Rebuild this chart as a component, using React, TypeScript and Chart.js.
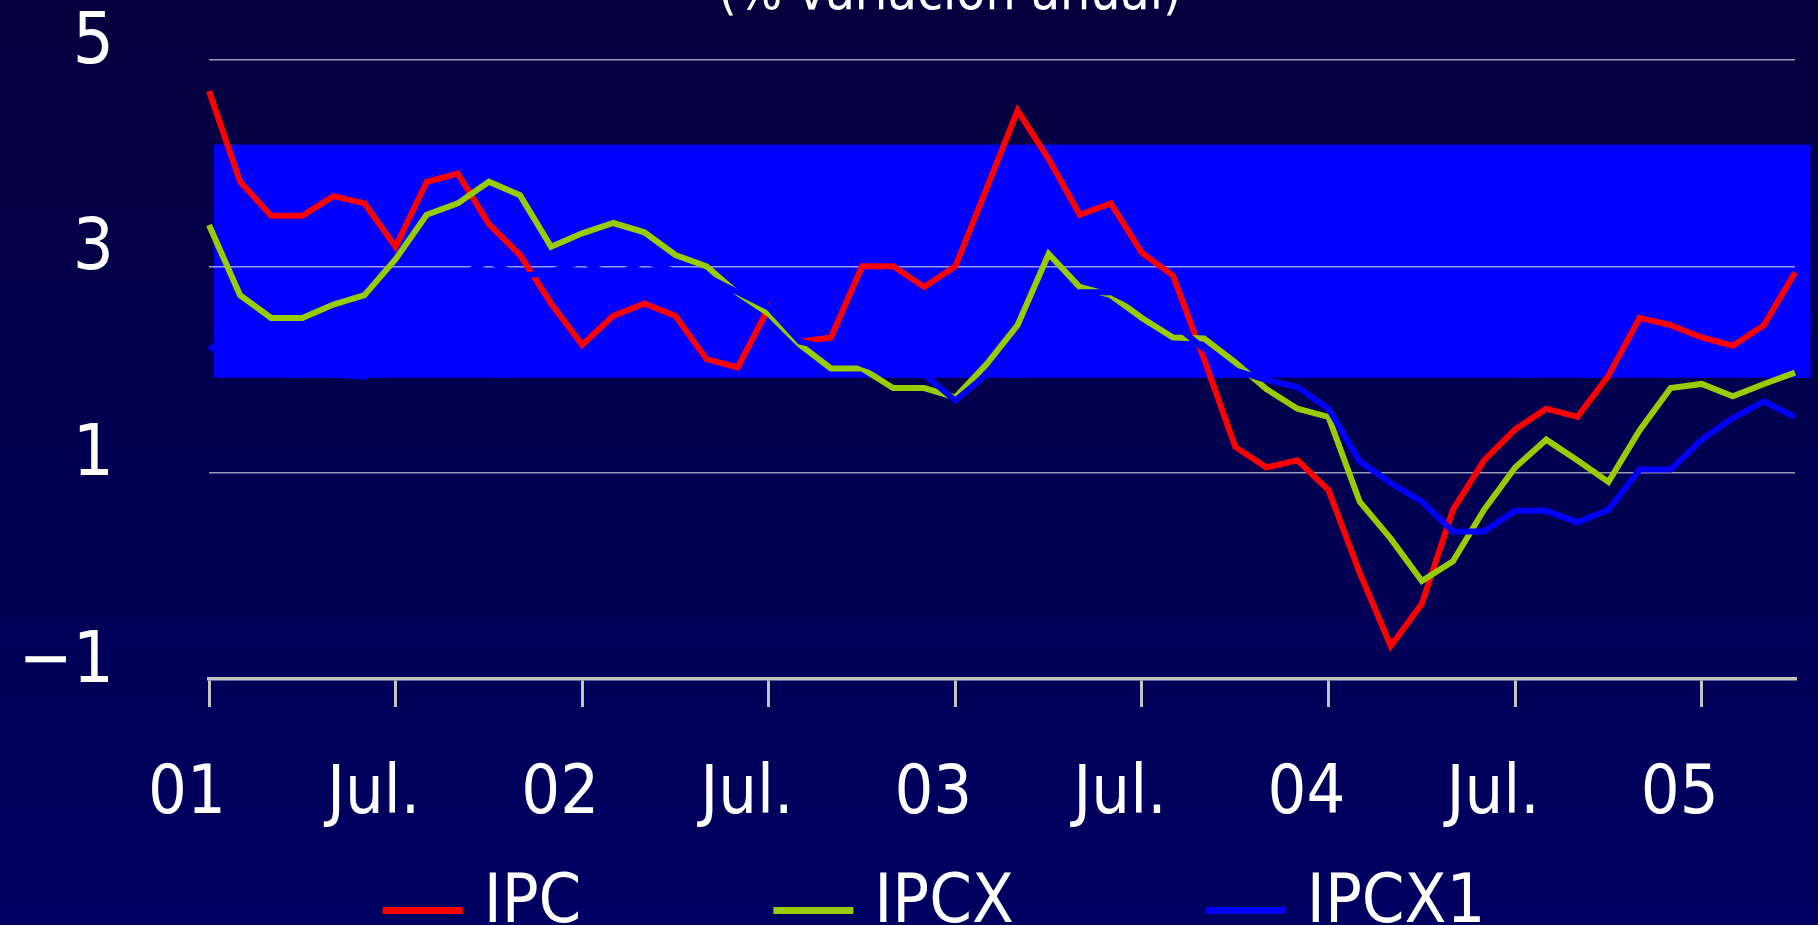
import React, { useEffect, useRef } from 'react';
import { Chart, registerables } from 'chart.js';

Chart.register(...registerables);

// ---------- data ----------
const months = [
  'Ene 01', 'Feb 01', 'Mar 01', 'Abr 01', 'May 01', 'Jun 01', 'Jul 01', 'Ago 01', 'Sep 01', 'Oct 01', 'Nov 01', 'Dic 01',
  'Ene 02', 'Feb 02', 'Mar 02', 'Abr 02', 'May 02', 'Jun 02', 'Jul 02', 'Ago 02', 'Sep 02', 'Oct 02', 'Nov 02', 'Dic 02',
  'Ene 03', 'Feb 03', 'Mar 03', 'Abr 03', 'May 03', 'Jun 03', 'Jul 03', 'Ago 03', 'Sep 03', 'Oct 03', 'Nov 03', 'Dic 03',
  'Ene 04', 'Feb 04', 'Mar 04', 'Abr 04', 'May 04', 'Jun 04', 'Jul 04', 'Ago 04', 'Sep 04', 'Oct 04', 'Nov 04', 'Dic 04',
  'Ene 05', 'Feb 05', 'Mar 05', 'Abr 05',
];

const tickLabels = ['01', 'Jul.', '02', 'Jul.', '03', 'Jul.', '04', 'Jul.', '05'];
const tickEvery = 6;

const ipc = [
  4.70, 3.82, 3.49, 3.49, 3.68, 3.61, 3.19, 3.82, 3.90, 3.41, 3.11, 2.64,
  2.24, 2.52, 2.64, 2.52, 2.10, 2.02, 2.60, 2.27, 2.31, 3.00, 3.00, 2.80,
  3.00, 3.75, 4.51, 4.04, 3.50, 3.61, 3.13, 2.91, 2.10, 1.25, 1.05, 1.12,
  0.83, 0.03, -0.68, -0.27, 0.64, 1.12, 1.42, 1.62, 1.54, 1.94, 2.50, 2.43,
  2.31, 2.23, 2.43, 2.94,
];

const ipcx = [
  3.40, 2.72, 2.50, 2.50, 2.63, 2.72, 3.07, 3.50, 3.61, 3.82, 3.69, 3.19,
  3.32, 3.42, 3.33, 3.11, 3.00, 2.74, 2.54, 2.24, 2.01, 2.01, 1.82, 1.82,
  1.73, 2.05, 2.43, 3.12, 2.80, 2.72, 2.50, 2.31, 2.30, 2.07, 1.81, 1.62,
  1.54, 0.72, 0.36, -0.05, 0.14, 0.64, 1.05, 1.32, 1.12, 0.91, 1.41, 1.82,
  1.86, 1.74, 1.86, 1.97,
];

const ipcx1 = [
  2.22, 2.10, 2.00, 1.95, 1.95, 1.93, 2.25, 2.55, 2.90, 3.05, 2.90, 2.95,
  3.05, 2.90, 3.05, 2.95, 2.90, 2.75, 2.60, 2.27, 2.20, 2.05, 1.95, 1.95,
  1.70, 1.95, 2.20, 2.50, 2.75, 2.75, 2.60, 2.45, 2.20, 1.99, 1.90, 1.83,
  1.62, 1.11, 0.90, 0.72, 0.43, 0.43, 0.63, 0.63, 0.52, 0.64, 1.03, 1.03,
  1.32, 1.53, 1.69, 1.54,
];

const seriesNames = ['IPC', 'IPCX', 'IPCX1'];
const seriesColors = ['#ff0000', '#99cc00', '#0000ff'];

// target range band (value limits, and category-index extent)
const bandLower = 1.92;
const bandUpper = 4.18;
const bandStartIndex = 0.15;
const bandEndIndex = months.length - 0.5;

const yMin = -1;
const yMax = 5;
const yStep = 2;

const titleText = '(% variación anual)';

const FONT = '"Liberation Sans Narrow", "DejaVu Sans Condensed", "Roboto", sans-serif';

const bandPlugin = {
  id: 'targetBand',
  beforeDraw(chart: any) {
    const { ctx, scales } = chart;
    const x = scales.x;
    const y = scales.y;
    const x0 = x.getPixelForValue(bandStartIndex);
    const x1 = x.getPixelForValue(bandEndIndex);
    const y0 = y.getPixelForValue(bandUpper);
    const y1 = y.getPixelForValue(bandLower);
    ctx.save();
    ctx.fillStyle = '#0000ff';
    ctx.fillRect(x0, y0, x1 - x0, y1 - y0);
    ctx.restore();
  },
};

const titleLegendPlugin = {
  id: 'titleLegend',
  afterDraw(chart: any) {
    const { ctx } = chart;
    ctx.save();
    // title (partly cut off at the top, as in the reference)
    ctx.fillStyle = '#ffffff';
    ctx.font = `53px ${FONT}`;
    ctx.textAlign = 'center';
    ctx.textBaseline = 'alphabetic';
    ctx.fillText(titleText, 950, 9);

    // legend
    ctx.font = `68px ${FONT}`;
    ctx.textAlign = 'left';
    const sampleW = 80;
    const sampleGap = 21;
    const itemGap = 192;
    const widths = seriesNames.map((n) => ctx.measureText(n).width);
    const total =
      widths.reduce((s, w) => s + sampleW + sampleGap + w, 0) + itemGap * (seriesNames.length - 1);
    let cx = 934 - total / 2;
    seriesNames.forEach((name, i) => {
      ctx.fillStyle = seriesColors[i];
      ctx.fillRect(cx, 907, sampleW, 7);
      ctx.fillStyle = '#ffffff';
      ctx.fillText(name, cx + sampleW + sampleGap, 922);
      cx += sampleW + sampleGap + widths[i] + itemGap;
    });
    ctx.restore();
  },
};

export default function App() {
  const canvasRef = useRef<HTMLCanvasElement | null>(null);

  useEffect(() => {
    document.body.style.margin = '0';
    const canvas = canvasRef.current;
    if (!canvas) return;
    const series = [ipc, ipcx, ipcx1];
    const chart = new Chart(canvas, {
      type: 'line',
      data: {
        labels: months,
        datasets: series.map((d, i) => ({
          label: seriesNames[i],
          data: d,
          borderColor: seriesColors[i],
          backgroundColor: seriesColors[i],
          borderWidth: 6,
          pointRadius: 0,
          pointHoverRadius: 0,
          tension: 0,
          fill: false,
          order: 3 - i,
        })),
      },
      options: {
        responsive: false,
        animation: false,
        devicePixelRatio: 1,
        layout: { padding: { top: 60, right: 23, bottom: 0, left: 0 } },
        plugins: {
          legend: { display: false },
          title: { display: false },
          tooltip: { enabled: false },
        },
        scales: {
          x: {
            type: 'category',
            offset: false,
            grid: {
              display: true,
              drawOnChartArea: false,
              drawTicks: true,
              tickLength: 28,
              color: '#c4c4c4',
              lineWidth: 3,
            },
            border: { display: true, color: '#c4c4c4', width: 3.5 },
            ticks: {
              autoSkip: false,
              maxRotation: 0,
              minRotation: 0,
              padding: 48,
              labelOffset: -22,
              color: '#ffffff',
              font: { family: FONT, size: 68 },
              callback: (_v: any, idx: number) =>
                idx % tickEvery === 0 ? tickLabels[idx / tickEvery] : null,
            },
            afterFit: (scale: any) => {
              scale.height = 246;
            },
          },
          y: {
            min: yMin,
            max: yMax,
            grid: {
              display: true,
              drawTicks: false,
              color: 'rgba(255,255,255,0.6)',
              lineWidth: 1.5,
            },
            border: { display: false },
            ticks: {
              stepSize: yStep,
              padding: 95,
              labelOffset: -16,
              color: '#ffffff',
              font: { family: FONT, size: 72 },
              callback: (v: any) => (Number(v) < 0 ? '\u2212' + Math.abs(Number(v)) : String(v)),
            },
            afterFit: (scale: any) => {
              scale.width = 209;
              scale.paddingTop = 0;
              scale.paddingBottom = 0;
            },
          },
        },
      },
      plugins: [bandPlugin, titleLegendPlugin],
    });
    return () => chart.destroy();
  }, []);

  return (
    <div
      style={{
        position: 'fixed',
        left: 0,
        top: 0,
        width: 1818,
        height: 925,
        background: 'linear-gradient(to bottom, #07003e 0%, #020050 50%, #000062 100%)',
      }}
    >
      <canvas ref={canvasRef} width={1818} height={925} style={{ display: 'block', width: 1818, height: 925 }} />
    </div>
  );
}
